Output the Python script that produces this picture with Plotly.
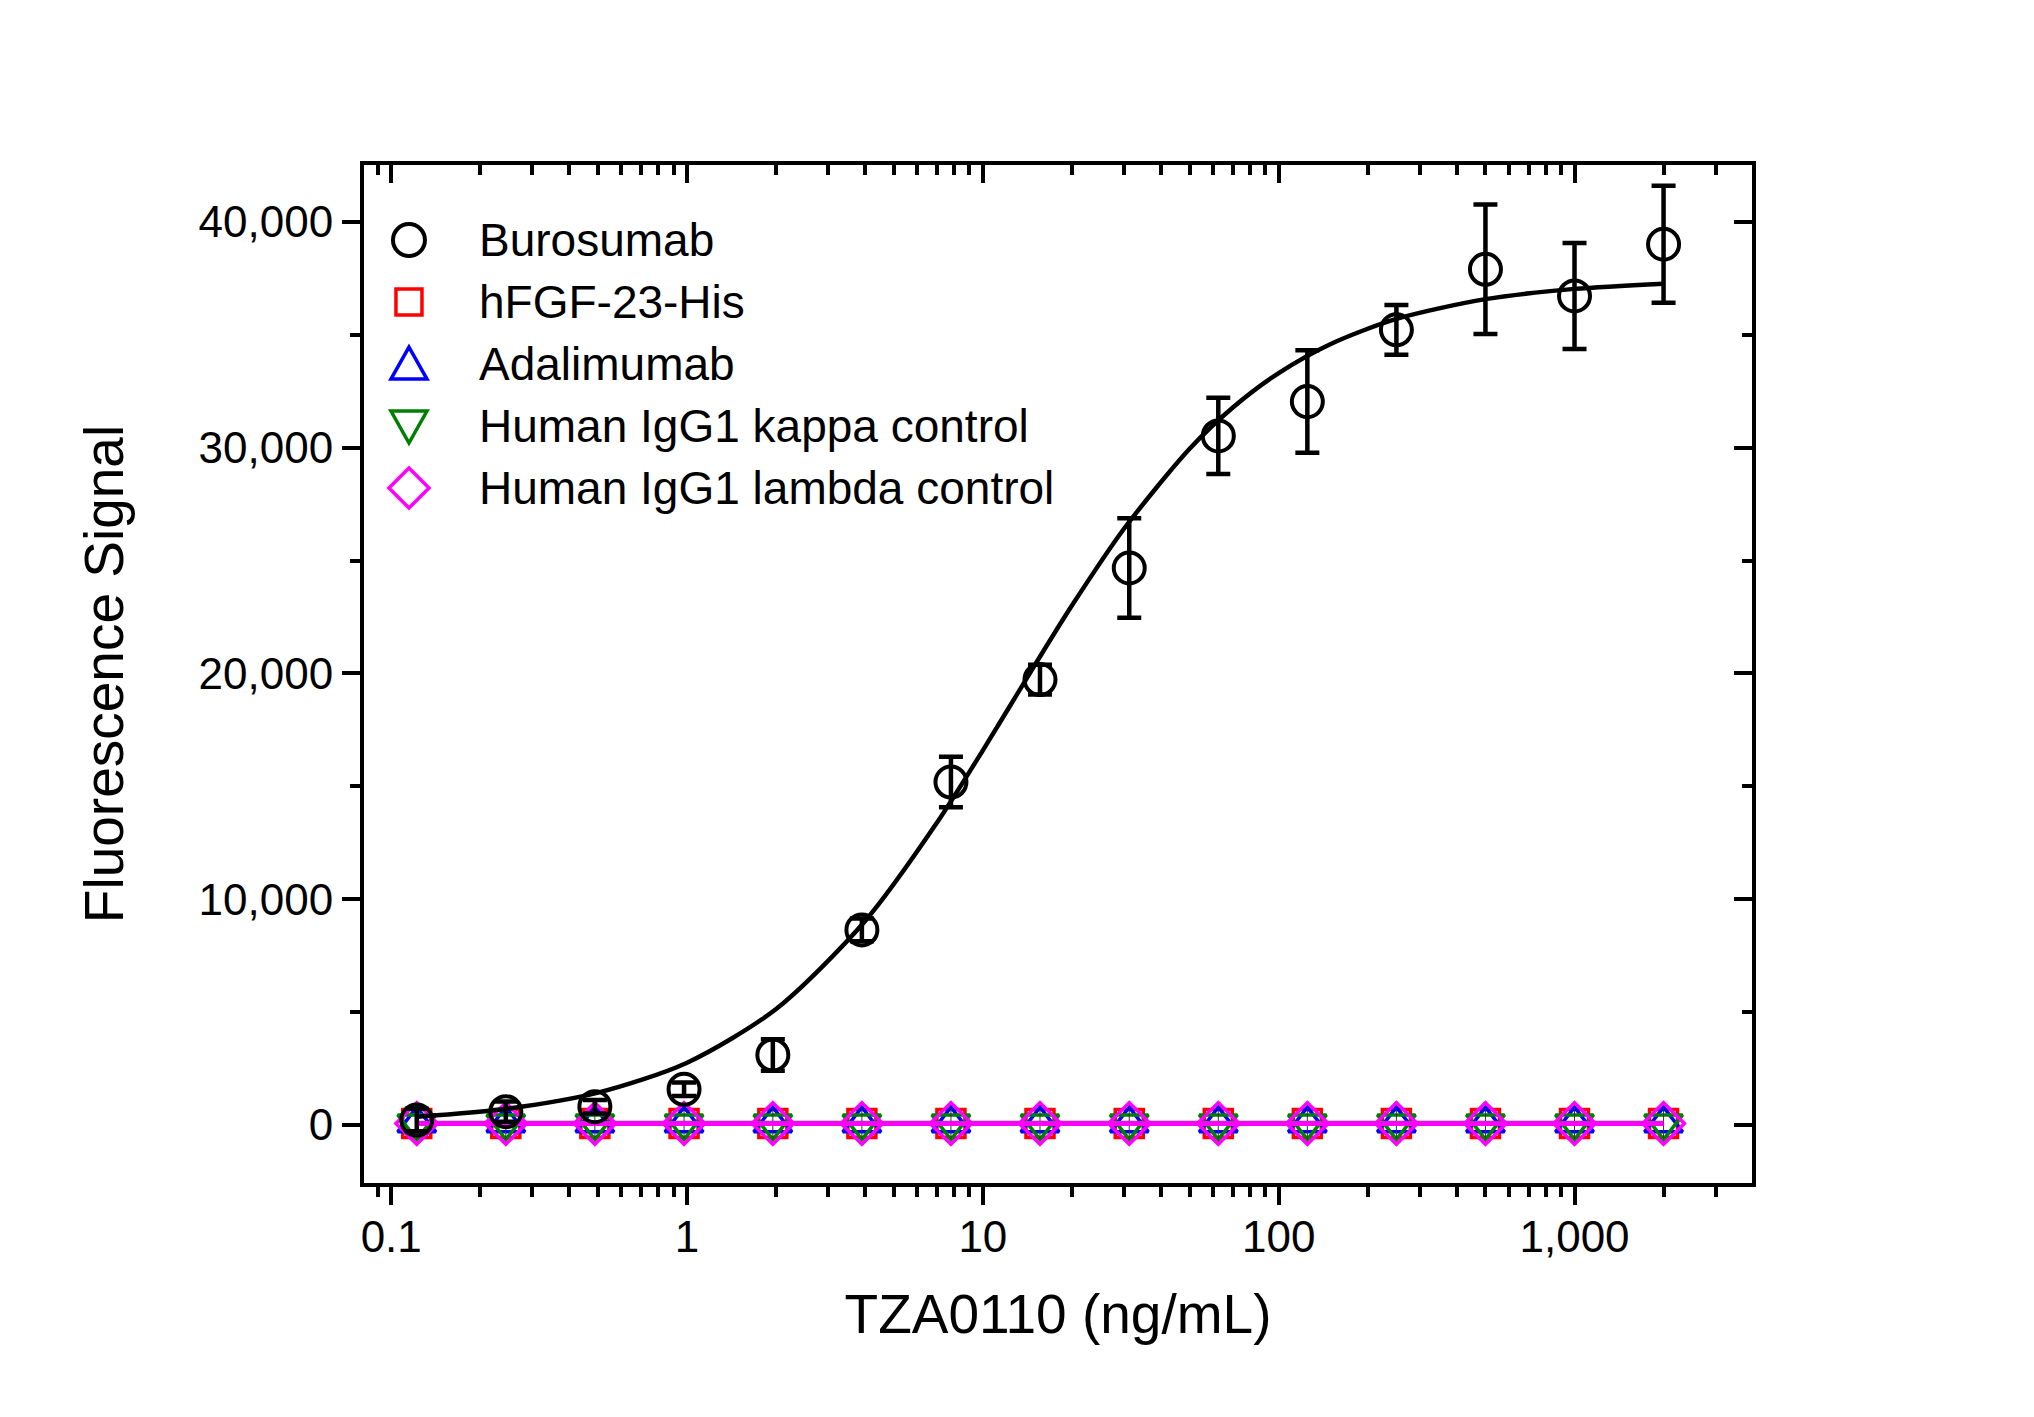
import plotly.graph_objects as go

# ---------------- data ----------------
conc = [0.122, 0.244, 0.488, 0.977, 1.95, 3.9, 7.8, 15.6, 31.25, 62.5, 125, 250, 500, 1000, 2000]
buro_y = [220, 590, 810, 1580, 3100, 8640, 15190, 19730, 24670, 30520, 32040, 35220, 37900, 36720, 39010]
buro_err = [500, 450, 300, 300, 700, 500, 1120, 660, 2200, 1690, 2270, 1100, 2870, 2350, 2590]

fgf_y = [70, 70, 70, 70, 70, 70, 70, 70, 70, 70, 70, 70, 70, 70, 70]
adali_y = [60, 60, 60, 60, 60, 60, 60, 60, 60, 60, 60, 60, 60, 60, 60]
kappa_y = [80, 80, 80, 80, 80, 80, 80, 80, 80, 80, 80, 80, 80, 80, 80]
lambda_y = [70, 70, 70, 70, 70, 70, 70, 70, 70, 70, 70, 70, 70, 70, 70]
lambda_err = [700, 700, 700, 700, 700, 700, 700, 700, 700, 700, 700, 700, 700, 700, 700]

# fitted curve
fit_x = [0.122, 0.25, 0.5, 1, 2, 4, 7, 10, 15, 20, 30, 50, 70, 100, 150, 250, 500, 1000, 2000]
fit_y = [360, 730, 1431, 2757, 5137, 9036, 13393, 16593, 20380, 23006, 26408, 29952, 31780,
         33304, 34594, 35701, 36578, 37033, 37265]

series_names = ["Burosumab", "hFGF-23-His", "Adalimumab", "Human IgG1 kappa control", "Human IgG1 lambda control"]

x_tickvals = [0.1, 1, 10, 100, 1000]
x_ticktext = ["0.1", "1", "10", "100", "1,000"]
x_minor = [0.09, 0.2, 0.3, 0.4, 0.5, 0.6, 0.7, 0.8, 0.9, 2, 3, 4, 5, 6, 7, 8, 9,
           20, 30, 40, 50, 60, 70, 80, 90, 200, 300, 400, 500, 600, 700, 800, 900, 2000, 3000]
y_tickvals = [0, 10000, 20000, 30000, 40000]
y_ticktext = ["0", "10,000", "20,000", "30,000", "40,000"]

FONT = "Liberation Sans, Arial, sans-serif"
X_RANGE = [-1.092, 3.6]
Y_RANGE = [-2570, 42520]

fig = go.Figure()

def control(y, name, color, symbol, size, err=None):
    kw = {}
    if err is not None:
        kw["error_y"] = dict(type="data", array=err, visible=True, color="#333333",
                             thickness=1, width=0)
    fig.add_trace(go.Scatter(
        x=conc, y=y, name=name, mode="lines+markers",
        line=dict(color=color, width=5),
        marker=dict(symbol=symbol, size=size, color=color, line=dict(color=color, width=3.5)),
        showlegend=False, **kw))

control(fgf_y, series_names[1], "#FF0000", "square-open", 28)
control(adali_y, series_names[2], "#0000FF", "triangle-up-open", 33)
control(kappa_y, series_names[3], "#008000", "triangle-down-open", 33)
control(lambda_y, series_names[4], "#FF00FF", "diamond-open", 32, lambda_err)

fig.add_trace(go.Scatter(
    x=conc, y=buro_y, name=series_names[0], mode="markers",
    marker=dict(symbol="circle-open", size=31, color="black", line=dict(color="black", width=4)),
    error_y=dict(type="data", array=buro_err, visible=True, color="black", thickness=4.5, width=12),
    showlegend=False))

# fit curve drawn on the overlaid top/right axes pair (identical ranges)
fig.add_trace(go.Scatter(
    x=fit_x, y=fit_y, name="Burosumab fit", mode="lines", xaxis="x2", yaxis="y2",
    line=dict(color="black", width=4.5, shape="spline", smoothing=0.8),
    showlegend=False, hoverinfo="skip"))

# ---------------- axes ----------------
axis_common = dict(showgrid=False, zeroline=False, showline=True, linecolor="black", linewidth=4,
                   tickcolor="black", tickwidth=3.5, ticklen=18)
fig.update_layout(
    xaxis=dict(type="log", range=X_RANGE, side="bottom", ticks="outside",
               tickvals=x_tickvals, ticktext=x_ticktext, ticklabelstandoff=-6,
               minor=dict(tickvals=x_minor, ticks="outside", ticklen=10, tickwidth=3.5, tickcolor="black"),
               tickfont=dict(family=FONT, size=44, color="black"),
               title=dict(text="TZA0110 (ng/mL)", font=dict(family=FONT, size=55, color="black"), standoff=36),
               **axis_common),
    xaxis2=dict(type="log", range=X_RANGE, side="top", overlaying="x", anchor="y2", ticks="inside",
                tickvals=x_tickvals, showticklabels=False,
                minor=dict(tickvals=x_minor, ticks="inside", ticklen=10, tickwidth=3.5, tickcolor="black"),
                **axis_common),
    yaxis=dict(range=Y_RANGE, side="left", ticks="outside",
               tickvals=y_tickvals, ticktext=y_ticktext,
               minor=dict(dtick=5000, tick0=0, ticks="outside", ticklen=10, tickwidth=3.5, tickcolor="black"),
               tickfont=dict(family=FONT, size=44, color="black"),
               title=dict(text="Fluorescence Signal", font=dict(family=FONT, size=55, color="black"), standoff=58),
               **axis_common),
    yaxis2=dict(range=Y_RANGE, side="right", overlaying="y", anchor="x2", ticks="inside",
                tickvals=y_tickvals, showticklabels=False,
                minor=dict(dtick=5000, tick0=0, ticks="inside", ticklen=10, tickwidth=3.5, tickcolor="black"),
                **axis_common),
    width=2034, height=1417,
    margin=dict(l=364, r=282, t=165, b=234, pad=0),
    paper_bgcolor="white", plot_bgcolor="white",
    showlegend=False,
)

# ---------------- custom legend ----------------
leg_sym_x = 0.0324
leg_text_x = 0.0815
leg_rows = [0.9263, 0.8654, 0.8045, 0.7436, 0.6827]
shapes = []
def pshape(kind, row, color, lw, **geom):
    d = dict(type=kind, xref="paper", yref="paper", xsizemode="pixel", ysizemode="pixel",
             xanchor=leg_sym_x, yanchor=leg_rows[row], line=dict(color=color, width=lw),
             fillcolor="rgba(0,0,0,0)")
    d.update(geom)
    shapes.append(d)

pshape("circle", 0, "black", 4, x0=-16, x1=16, y0=-16, y1=16)
pshape("rect", 1, "#FF0000", 3.5, x0=-13, x1=13, y0=-13, y1=13)
pshape("path", 2, "#0000FF", 3.5, path="M -18,-15 L 18,-15 L 0,17 Z")
pshape("path", 3, "#008000", 3.5, path="M -18,15 L 18,15 L 0,-17 Z")
pshape("path", 4, "#FF00FF", 3.5, path="M 0,-20 L 20,0 L 0,20 L -20,0 Z")

annotations = []
for i, name in enumerate(series_names):
    annotations.append(dict(text=name, x=leg_text_x, y=leg_rows[i], xref="paper", yref="paper",
                            xanchor="left", yanchor="middle", showarrow=False,
                            font=dict(family=FONT, size=46, color="black")))
fig.update_layout(shapes=shapes, annotations=annotations)

fig.write_html("out.html")
